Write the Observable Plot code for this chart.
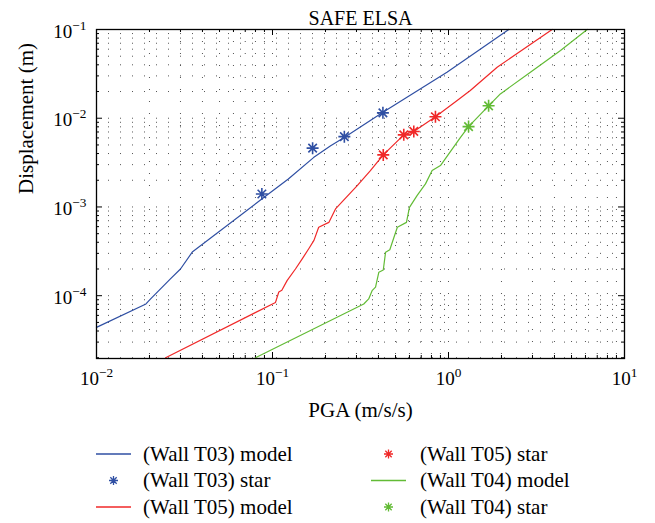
<!DOCTYPE html>
<html><head><meta charset="utf-8">
<script src="https://cdn.jsdelivr.net/npm/d3@7"></script>
<script src="https://cdn.jsdelivr.net/npm/@observablehq/plot@0.6"></script>
<style>
body{margin:0;background:#fff;}
#wrap{width:655px;height:523px;overflow:hidden;font-family:"Liberation Serif","DejaVu Serif","Times New Roman",serif;background:#fff;}
svg{display:block;}
svg text{font-family:"Liberation Serif","DejaVu Serif","Times New Roman",serif;}
</style></head><body><div id="wrap"></div>
<script>
const title = "SAFE ELSA";
const xLabel = "PGA (m/s/s)";
const yLabel = "Displacement (m)";
const xMajor = [0.01, 0.1, 1, 10];
const xMajorLabels = ["10^−2", "10^−1", "10^0", "10^1"];
const yMajor = [1e-4, 1e-3, 1e-2, 1e-1];
const yMajorLabels = ["10^−4", "10^−3", "10^−2", "10^−1"];
const mantissas = [2, 3, 4, 5, 6, 7, 8, 9];
const xDecades = [0.01, 0.1, 1];
const yDecades = [1e-5, 1e-4, 1e-3, 1e-2];
const xDomain = [0.01, 10];
const yDomain = [1.96e-5, 0.1];

// (Wall T03) model
const t03ModelPGA  = [0.01, 0.0191, 0.0203, 0.0263, 0.030, 0.035, 0.0847, 0.123, 0.171, 0.214, 0.257, 0.42, 0.98, 2.2];
const t03ModelDisp = [4.4e-5, 8.07e-5, 9.2e-5, 1.55e-4, 2.0e-4, 3.1e-4, 1.18e-3, 2.07e-3, 3.6e-3, 4.9e-3, 6.1e-3, 0.0115, 0.033, 0.1];
// (Wall T03) star
const t03StarPGA  = [0.087, 0.169, 0.256, 0.424];
const t03StarDisp = [1.4e-3, 4.6e-3, 6.2e-3, 0.0115];
// (Wall T05) model
const t05ModelPGA  = [0.0247, 0.104, 0.1086, 0.113, 0.121, 0.135, 0.1475, 0.161, 0.172, 0.183, 0.209, 0.228, 0.303, 0.36, 0.426, 0.557, 0.635, 0.843, 1.12, 1.33, 1.89, 3.88];
const t05ModelDisp = [2.0e-5, 8.4e-5, 1.1e-4, 1.15e-4, 1.48e-4, 2.0e-4, 2.6e-4, 3.4e-4, 4.2e-4, 5.9e-4, 6.7e-4, 9.5e-4, 1.74e-3, 2.57e-3, 3.86e-3, 6.5e-3, 7.1e-3, 0.0104, 0.0158, 0.0205, 0.0376, 0.1];
// (Wall T05) star
const t05StarPGA  = [0.426, 0.557, 0.635, 0.843];
const t05StarDisp = [3.86e-3, 6.5e-3, 7.1e-3, 0.0104];
// (Wall T04) model
const t04ModelPGA  = [0.080, 0.330, 0.352, 0.368, 0.385, 0.402, 0.426, 0.439, 0.464, 0.49, 0.512, 0.577, 0.60, 0.664, 0.74, 0.807, 0.90, 1.17, 1.30, 1.69, 1.97, 2.92, 4.33, 6.14];
const t04ModelDisp = [2.0e-5, 8.07e-5, 9.2e-5, 1.14e-4, 1.25e-4, 1.84e-4, 1.95e-4, 3.09e-4, 3.3e-4, 4.55e-4, 5.9e-4, 6.7e-4, 9.9e-4, 1.35e-3, 1.82e-3, 2.57e-3, 2.93e-3, 6.1e-3, 8.05e-3, 0.0138, 0.0188, 0.033, 0.058, 0.1];
// (Wall T04) star
const t04StarPGA  = [1.30, 1.69];
const t04StarDisp = [8.05e-3, 0.0138];

const colors = {t03: "#2f4fa3", t05: "#f02828", t04: "#62bb35"};

const legendItems = [
  {label: "(Wall T03) model", kind: "line", color: colors.t03, col: 0, row: 0},
  {label: "(Wall T03) star",  kind: "star", color: colors.t03, col: 0, row: 1},
  {label: "(Wall T05) model", kind: "line", color: colors.t05, col: 0, row: 2},
  {label: "(Wall T05) star",  kind: "star", color: colors.t05, col: 1, row: 0},
  {label: "(Wall T04) model", kind: "line", color: colors.t04, col: 1, row: 1},
  {label: "(Wall T04) star",  kind: "star", color: colors.t04, col: 1, row: 2}
];

const FONT = '"Liberation Serif", "DejaVu Serif", "Times New Roman", serif';
const zip = (xs, ys) => xs.map((x, i) => ({x, y: ys[i]}));

const asterisk = {
  draw(ctx, size) {
    const r = Math.sqrt(size / Math.PI);
    const d = r * Math.SQRT1_2;
    ctx.moveTo(-r, 0); ctx.lineTo(r, 0);
    ctx.moveTo(0, -r); ctx.lineTo(0, r);
    ctx.moveTo(-d, -d); ctx.lineTo(d, d);
    ctx.moveTo(-d, d); ctx.lineTo(d, -d);
  }
};

const xMinor = xDecades.flatMap(d => mantissas.map(m => m * d));
const yMinor = yDecades.flatMap(d => mantissas.map(m => m * d)).filter(v => v > yDomain[0] && v < yDomain[1]);
const xGrid = [...xMajor.slice(1, -1), ...xMinor];
const yGrid = [...yMajor.slice(0, -1), ...yMinor];

const W = 655, H = 430, mt = 29, mb = 72, ml = 96, mr = 31;
const ih = H - mt - mb, iw = W - ml - mr;
const majorLen = 6, minorLen = 3;

const gridStyle = {stroke: "#555", strokeWidth: 1, strokeDasharray: "1,11"};

const plot = Plot.plot({
  width: W, height: H,
  marginTop: mt, marginBottom: mb, marginLeft: ml, marginRight: mr,
  style: {fontFamily: FONT, fontSize: "18px", background: "white", overflow: "visible", color: "black"},
  x: {type: "log", domain: xDomain, axis: null},
  y: {type: "log", domain: yDomain, axis: null},
  marks: [
    Plot.ruleX(xGrid, {x: d => d, ...gridStyle}),
    Plot.ruleY(yGrid, {y: d => d, ...gridStyle}),
    // inward ticks, all four sides
    Plot.ruleX(xMajor, {x: d => d, insetTop: ih - majorLen, stroke: "black"}),
    Plot.ruleX(xMajor, {x: d => d, insetBottom: ih - majorLen, stroke: "black"}),
    Plot.ruleX(xMinor, {x: d => d, insetTop: ih - minorLen, stroke: "black"}),
    Plot.ruleX(xMinor, {x: d => d, insetBottom: ih - minorLen, stroke: "black"}),
    Plot.ruleY(yMajor, {y: d => d, insetRight: iw - majorLen, stroke: "black"}),
    Plot.ruleY(yMajor, {y: d => d, insetLeft: iw - majorLen, stroke: "black"}),
    Plot.ruleY(yMinor, {y: d => d, insetRight: iw - minorLen, stroke: "black"}),
    Plot.ruleY(yMinor, {y: d => d, insetLeft: iw - minorLen, stroke: "black"}),
    // series
    Plot.line(zip(t03ModelPGA, t03ModelDisp), {x: "x", y: "y", stroke: colors.t03, strokeWidth: 1.2}),
    Plot.line(zip(t05ModelPGA, t05ModelDisp), {x: "x", y: "y", stroke: colors.t05, strokeWidth: 1.2}),
    Plot.line(zip(t04ModelPGA, t04ModelDisp), {x: "x", y: "y", stroke: colors.t04, strokeWidth: 1.2}),
    Plot.dot(zip(t03StarPGA, t03StarDisp), {x: "x", y: "y", symbol: asterisk, r: 6, stroke: colors.t03, fill: "none", strokeWidth: 1.6}),
    Plot.dot(zip(t05StarPGA, t05StarDisp), {x: "x", y: "y", symbol: asterisk, r: 6, stroke: colors.t05, fill: "none", strokeWidth: 1.6}),
    Plot.dot(zip(t04StarPGA, t04StarDisp), {x: "x", y: "y", symbol: asterisk, r: 6, stroke: colors.t04, fill: "none", strokeWidth: 1.6}),
    Plot.frame({stroke: "black", strokeWidth: 1.3}),
    // tick labels
    Plot.text(xMajor, {x: d => d, text: (d, i) => xMajorLabels[i], frameAnchor: "bottom", dy: 26, fontSize: 19}),
    Plot.text(yMajor, {y: d => d, text: (d, i) => yMajorLabels[i], frameAnchor: "left", dx: -10, dy: 2, textAnchor: "end", fontSize: 19}),
    // titles
    Plot.text([xLabel], {text: d => d, frameAnchor: "bottom", dy: 58, fontSize: 21}),
    Plot.text([yLabel], {text: d => d, frameAnchor: "left", dx: -70, rotate: -90, fontSize: 21}),
    Plot.text([title], {text: d => d, frameAnchor: "top", dy: -19, fontSize: 20})
  ]
});

// turn "10^e" labels into 10 with a raised exponent
d3.select(plot).selectAll("text").each(function() {
  const s = this.textContent;
  if (!s.includes("^")) return;
  const [base, exp] = s.split("^");
  const t = d3.select(this);
  t.selectAll("*").remove();
  t.text(base);
  t.append("tspan").attr("dy", "-0.6em").attr("font-size", "0.7em").text(exp);
});

const wrap = document.getElementById("wrap");
wrap.appendChild(plot);

// legend below the chart
const LH = 523 - H;
const leg = d3.select(wrap).append("svg").attr("width", W).attr("height", LH)
  .style("font-family", FONT).style("font-size", "21px");
const colX = [{line0: 96, line1: 131, text: 143}, {line0: 371, line1: 406, text: 420}];
const rowY = [24, 50.5, 77];
const starPath = d3.symbol(asterisk, Math.PI * 4.5 * 4.5)();
legendItems.forEach(it => {
  const c = colX[it.col], y = rowY[it.row];
  if (it.kind === "line") {
    leg.append("line").attr("x1", c.line0).attr("x2", c.line1).attr("y1", y).attr("y2", y)
      .attr("stroke", it.color).attr("stroke-width", 1.3);
  } else {
    leg.append("path").attr("d", starPath).attr("transform", `translate(${(c.line0 + c.line1) / 2},${y})`)
      .attr("stroke", it.color).attr("fill", "none").attr("stroke-width", 1.3);
  }
  leg.append("text").attr("x", c.text).attr("y", y).attr("dy", "0.32em").attr("fill", "black").text(it.label);
});
</script>
</body></html>
